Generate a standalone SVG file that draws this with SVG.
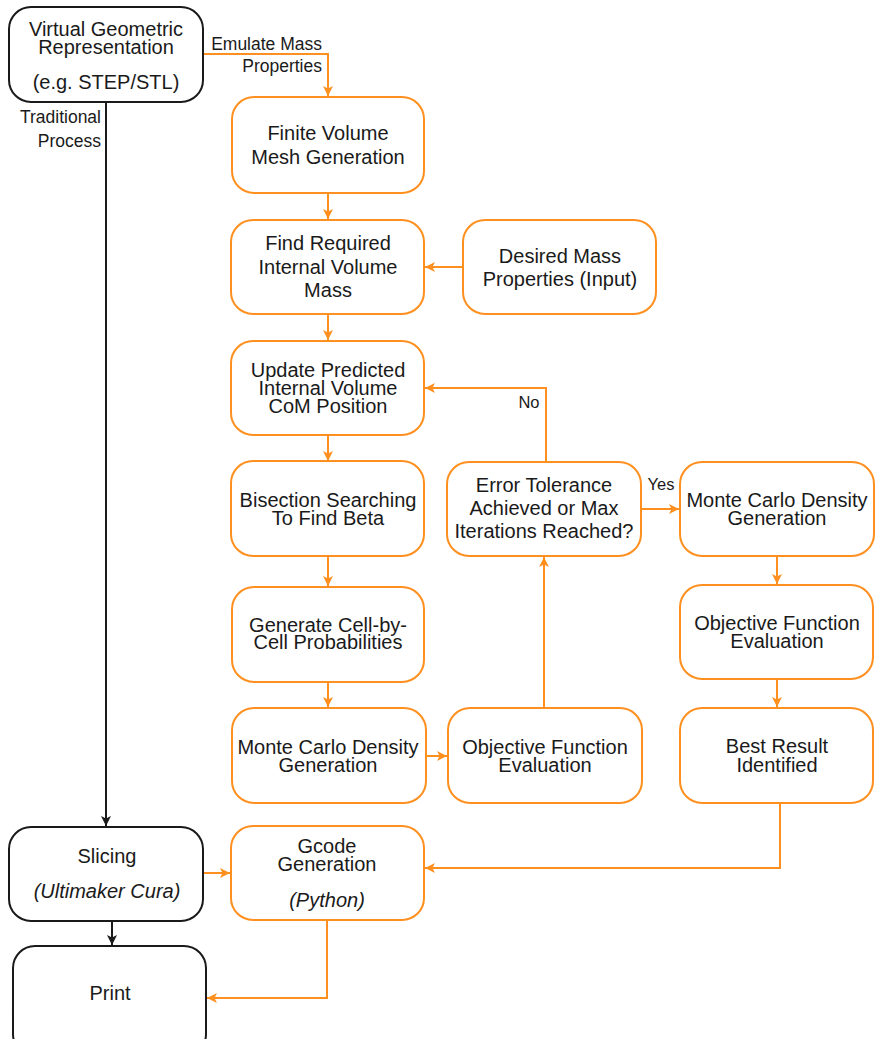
<svg xmlns="http://www.w3.org/2000/svg" width="881" height="1039" viewBox="0 0 881 1039">
<style>
.bo{fill:#fff;stroke:#FF8F1F;stroke-width:2}
.bk{fill:#fff;stroke:#1a1a1a;stroke-width:2}
text{font-family:"Liberation Sans",Arial,sans-serif;fill:#1a1a1a;text-anchor:middle}
.t{font-size:20px}
.l{font-size:16.5px}
.lb{font-size:17.5px}
.r{text-anchor:end}
.i{font-style:italic}
.co{fill:none;stroke:#FF8F1F;stroke-width:2}
.ck{fill:none;stroke:#1a1a1a;stroke-width:2}
</style>
<defs>
<marker id="ao" viewBox="0 0 10 10" refX="10" refY="5" markerWidth="10" markerHeight="10" markerUnits="userSpaceOnUse" orient="auto"><path d="M0,0 L10,5 L0,10 L2.5,5 z" fill="#FF8F1F"/></marker>
<marker id="ak" viewBox="0 0 10 10" refX="10" refY="5" markerWidth="10" markerHeight="10" markerUnits="userSpaceOnUse" orient="auto"><path d="M0,0 L10,5 L0,10 L2.5,5 z" fill="#1a1a1a"/></marker>
</defs>
<g id="connectors">
<polyline class="co" points="203,54 328,54 328,96" marker-end="url(#ao)"/>
<line class="ck" x1="106" y1="102" x2="106" y2="826" marker-end="url(#ak)"/>
<line class="co" x1="328" y1="193" x2="328" y2="219" marker-end="url(#ao)"/>
<line class="co" x1="463" y1="267" x2="425" y2="267" marker-end="url(#ao)"/>
<line class="co" x1="328" y1="314" x2="328" y2="340" marker-end="url(#ao)"/>
<polyline class="co" points="546,462 546,388 425,388" marker-end="url(#ao)"/>
<line class="co" x1="328" y1="435" x2="328" y2="461" marker-end="url(#ao)"/>
<line class="co" x1="641" y1="509" x2="679" y2="509" marker-end="url(#ao)"/>
<line class="co" x1="328" y1="556" x2="328" y2="586" marker-end="url(#ao)"/>
<line class="co" x1="777" y1="556" x2="777" y2="584" marker-end="url(#ao)"/>
<line class="co" x1="328" y1="682" x2="328" y2="707" marker-end="url(#ao)"/>
<line class="co" x1="777" y1="679" x2="777" y2="707" marker-end="url(#ao)"/>
<line class="co" x1="426" y1="756" x2="447" y2="756" marker-end="url(#ao)"/>
<line class="co" x1="544" y1="708" x2="544" y2="557" marker-end="url(#ao)"/>
<polyline class="co" points="780,803 780,868 425,868" marker-end="url(#ao)"/>
<line class="co" x1="203" y1="873" x2="230" y2="873" marker-end="url(#ao)"/>
<line class="ck" x1="112" y1="921" x2="112" y2="945" marker-end="url(#ak)"/>
<polyline class="co" points="327,920 327,998 207,998" marker-end="url(#ao)"/>
<text class="lb r" x="322" y="50">Emulate Mass</text>
<text class="lb r" x="322" y="72">Properties</text>
<text class="lb r" x="101" y="123">Traditional</text>
<text class="lb r" x="101" y="147">Process</text>
<text class="l" x="529" y="408">No</text>
<text class="l" x="661" y="490">Yes</text>
</g>
<g id="vgr">
<rect class="bk" x="9" y="7" width="194" height="95" rx="22"/>
<text class="t" x="106" y="36">Virtual Geometric</text>
<text class="t" x="106" y="54">Representation</text>
<text class="t" x="106" y="89">(e.g. STEP/STL)</text>
</g>
<g id="finite">
<rect class="bo" x="232" y="97" width="192" height="96" rx="22"/>
<text class="t" x="328" y="140">Finite Volume</text>
<text class="t" x="328" y="164">Mesh Generation</text>
</g>
<g id="findreq">
<rect class="bo" x="231" y="220" width="193" height="94" rx="22"/>
<text class="t" x="328" y="250">Find Required</text>
<text class="t" x="328" y="274">Internal Volume</text>
<text class="t" x="328" y="297">Mass</text>
</g>
<g id="desired">
<rect class="bo" x="463" y="220" width="193" height="94" rx="22"/>
<text class="t" x="560" y="263">Desired Mass</text>
<text class="t" x="560" y="286">Properties (Input)</text>
</g>
<g id="update">
<rect class="bo" x="231" y="341" width="193" height="94" rx="22"/>
<text class="t" x="328" y="377">Update Predicted</text>
<text class="t" x="328" y="395">Internal Volume</text>
<text class="t" x="328" y="413">CoM Position</text>
</g>
<g id="bisection">
<rect class="bo" x="231" y="461" width="193" height="95" rx="22"/>
<text class="t" x="328" y="507">Bisection Searching</text>
<text class="t" x="328" y="525">To Find Beta</text>
</g>
<g id="error">
<rect class="bo" x="447" y="462" width="194" height="94" rx="22"/>
<text class="t" x="544" y="492">Error Tolerance</text>
<text class="t" x="544" y="515">Achieved or Max</text>
<text class="t" x="544" y="538">Iterations Reached?</text>
</g>
<g id="mcright">
<rect class="bo" x="680" y="462" width="194" height="94" rx="22"/>
<text class="t" x="777" y="507">Monte Carlo Density</text>
<text class="t" x="777" y="525">Generation</text>
</g>
<g id="generate">
<rect class="bo" x="232" y="587" width="192" height="95" rx="22"/>
<text class="t" x="328" y="632">Generate Cell-by-</text>
<text class="t" x="328" y="649">Cell Probabilities</text>
</g>
<g id="objright">
<rect class="bo" x="680" y="585" width="193" height="94" rx="22"/>
<text class="t" x="777" y="630">Objective Function</text>
<text class="t" x="777" y="648">Evaluation</text>
</g>
<g id="mcleft">
<rect class="bo" x="232" y="708" width="194" height="95" rx="22"/>
<text class="t" x="328" y="754">Monte Carlo Density</text>
<text class="t" x="328" y="772">Generation</text>
</g>
<g id="objmid">
<rect class="bo" x="448" y="708" width="194" height="95" rx="22"/>
<text class="t" x="545" y="754">Objective Function</text>
<text class="t" x="545" y="772">Evaluation</text>
</g>
<g id="best">
<rect class="bo" x="680" y="708" width="193" height="95" rx="22"/>
<text class="t" x="777" y="753">Best Result</text>
<text class="t" x="777" y="772">Identified</text>
</g>
<g id="slicing">
<rect class="bk" x="9" y="827" width="194" height="94" rx="22"/>
<text class="t" x="107" y="863">Slicing</text>
<text class="t i" x="107" y="898">(Ultimaker Cura)</text>
</g>
<g id="gcode">
<rect class="bo" x="231" y="826" width="193" height="94" rx="22"/>
<text class="t" x="327" y="853">Gcode</text>
<text class="t" x="327" y="871">Generation</text>
<text class="t i" x="327" y="907">(Python)</text>
</g>
<g id="print">
<rect class="bk" x="13" y="946" width="193" height="110" rx="22"/>
<text class="t" x="110" y="1000">Print</text>
</g>
</svg>
